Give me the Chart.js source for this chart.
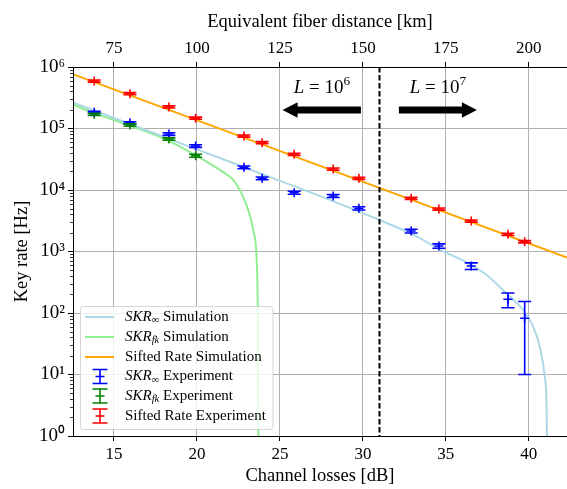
<!DOCTYPE html>
<html>
<head>
<meta charset="utf-8">
<script src="https://cdn.jsdelivr.net/npm/chart.js@4.4.0/dist/chart.umd.min.js"></script>
<style>
  html, body { margin: 0; padding: 0; background: #fff; }
  #wrap { width: 567px; height: 489px; }
</style>
</head>
<body>
<div id="wrap"><canvas id="keyRateChart" width="567" height="489"></canvas></div>
<script>
// measured points, channel losses [dB]
const lossExp = [13.81, 15.96, 18.31, 19.92, 22.83, 23.93, 25.86, 28.21, 29.76, 32.91, 34.58, 36.53, 38.74, 39.75];
const lossExpFk = [13.81, 15.96, 18.31, 19.92];

// experiment rates [Hz] and their error bars
const siftedExp = [5.92e5, 3.68e5, 2.24e5, 1.47e5, 7.55e4, 5.88e4, 3.80e4, 2.19e4, 1.55e4, 7.33e3, 4.91e3, 3.13e3, 1.90e3, 1.44e3];
const siftedErr = [2.4e4, 1.5e4, 9e3, 6e3, 3e3, 2.4e3, 1.5e3, 9e2, 6e2, 3e2, 2e2, 1.3e2, 80, 60];
const skrInfExp = [1.83e5, 1.24e5, 8.14e4, 5.19e4, 2.34e4, 1.55e4, 9.04e3, 7.99e3, 5.04e3, 2.15e3, 1.23e3, 581, 167, 82];
const skrInfErr = [7e3, 5e3, 4e3, 2.5e3, 1.2e3, 8e2, 5e2, 4.5e2, 3e2, 1.5e2, 1e2, 72, 45, 72];
const skrFkExp = [1.70e5, 1.14e5, 6.75e4, 3.61e4];
const skrFkErr = [7e3, 5e3, 3e3, 2e3];

// simulation curves
const lossSifted = [12.5, 27.5, 42.3];
const siftedSim = [7.66e5, 2.42e4, 8.0e2];
const lossSkrInf = [12.5, 15, 20, 25, 28, 31, 33, 35, 36, 36.85, 37.5, 38.43, 39, 39.66, 40.26, 40.66, 40.96, 41.06, 41.12];
const skrInfSim = [2.67e5, 1.48e5, 4.57e4, 1.41e4, 6.9e3, 3.25e3, 1.9e3, 955, 724, 533, 407, 237, 170, 112, 59.8, 28.3, 9.2, 3.85, 0.3];
const lossSkrFk = [12.5, 13.8, 16, 18.3, 20, 21.39, 22.19, 22.69, 23.09, 23.39, 23.6, 23.66, 23.69, 23.71];
const skrFkSim = [2.48e5, 1.78e5, 1.10e5, 6.31e4, 3.55e4, 2.11e4, 1.46e4, 8.83e3, 4.73e3, 2.24e3, 728, 158, 16, 0.3];

// axes
const lossMin = 12.53, lossMax = 42.3;
const lossTicks = [15, 20, 25, 30, 35, 40];
const kmPerDb = 5;
const kmTicks = [75, 100, 125, 150, 175, 200];
const rateTicks = [1, 10, 100, 1e3, 1e4, 1e5, 1e6];

// block length regions
const boundaryLoss = 31;
const arrowTail = [29.88, 32.17];
const arrowTip = [25.16, 36.87];
const arrowLevel = 2.0e5;
const labelLoss = [27.53, 34.52];
const labelLevel = 3.8e5;
const blockExp = ['6', '7'];

const SERIF = "'Liberation Serif', 'Times New Roman', serif";
Chart.defaults.font.family = SERIF;
Chart.defaults.color = '#000';

const pts = (xs, ys) => xs.map((x, i) => ({x: x, y: ys[i]}));
const sup = ['\u2070', '\u00b9', '\u00b2', '\u00b3', '\u2074', '\u2075', '\u2076'];

function drawRich(ctx, x, y, segs, size, align) {
  const fontOf = s => (s.it ? 'italic ' : '') + ((s.sub || s.sup) ? size * 0.7 : size) + 'px ' + SERIF;
  let w = 0;
  segs.forEach(s => { ctx.font = fontOf(s); w += ctx.measureText(s.t).width; });
  let cx = align === 'center' ? x - w / 2 : x;
  ctx.textAlign = 'left';
  segs.forEach(s => {
    ctx.font = fontOf(s);
    const dy = s.sub ? size * 0.22 : s.sup ? -size * 0.42 : 0;
    ctx.fillText(s.t, cx, y + dy);
    cx += ctx.measureText(s.t).width;
  });
}

function drawErrIcon(ctx, x, y, color, capHalf, barHalf, mark) {
  ctx.strokeStyle = color;
  ctx.lineWidth = 1.6;
  ctx.beginPath();
  ctx.moveTo(x, y - barHalf); ctx.lineTo(x, y + barHalf);
  ctx.moveTo(x - capHalf, y - barHalf); ctx.lineTo(x + capHalf, y - barHalf);
  ctx.moveTo(x - capHalf, y + barHalf); ctx.lineTo(x + capHalf, y + barHalf);
  ctx.moveTo(x - mark, y); ctx.lineTo(x + mark, y);
  ctx.stroke();
}

function drawArrow(ctx, x0, x1, yc) {
  const dir = Math.sign(x1 - x0), headLen = 15, headHalf = 7.7, shaftHalf = 3.4;
  const xh = x1 - dir * headLen;
  ctx.beginPath();
  ctx.moveTo(x0, yc - shaftHalf);
  ctx.lineTo(xh, yc - shaftHalf);
  ctx.lineTo(xh, yc - headHalf);
  ctx.lineTo(x1, yc);
  ctx.lineTo(xh, yc + headHalf);
  ctx.lineTo(xh, yc + shaftHalf);
  ctx.lineTo(x0, yc + shaftHalf);
  ctx.closePath();
  ctx.fill();
}

// fixed axis boxes, no extra padding for edge labels
function fixBox(size) {
  return s => {
    if (s.isHorizontal()) s.height = size; else s.width = size;
    s.paddingLeft = s.paddingRight = s.paddingTop = s.paddingBottom = 0;
  };
}

const errorBars = {
  id: 'errorBars',
  afterDatasetsDraw(chart) {
    const ctx = chart.ctx, y = chart.scales.y;
    chart.data.datasets.forEach((ds, i) => {
      if (!ds.errors) return;
      const meta = chart.getDatasetMeta(i);
      ctx.save();
      ctx.strokeStyle = ds.borderColor;
      ctx.lineWidth = 1.6;
      meta.data.forEach((pt, j) => {
        const v = ds.data[j].y, e = ds.errors[j];
        const top = y.getPixelForValue(v + e);
        const bot = y.getPixelForValue(Math.max(v - e, 1e-3));
        ctx.beginPath();
        ctx.moveTo(pt.x, top); ctx.lineTo(pt.x, bot);
        ctx.moveTo(pt.x - 6.5, top); ctx.lineTo(pt.x + 6.5, top);
        ctx.moveTo(pt.x - 6.5, bot); ctx.lineTo(pt.x + 6.5, bot);
        ctx.stroke();
      });
      ctx.restore();
    });
  }
};

const annotations = {
  id: 'annotations',
  afterDatasetsDraw(chart) {
    const {ctx, chartArea, scales: {x, y}} = chart;
    const xb = x.getPixelForValue(boundaryLoss);
    ctx.save();
    ctx.strokeStyle = '#000';
    ctx.lineWidth = 2;
    ctx.setLineDash([5.5, 2.5]);
    ctx.beginPath();
    ctx.moveTo(xb, chartArea.top); ctx.lineTo(xb, chartArea.bottom);
    ctx.stroke();
    ctx.setLineDash([]);
    ctx.fillStyle = '#000';
    arrowTail.forEach((t, k) => drawArrow(ctx, x.getPixelForValue(t), x.getPixelForValue(arrowTip[k]), y.getPixelForValue(arrowLevel)));
    ctx.textBaseline = 'alphabetic';
    blockExp.forEach((e, k) => drawRich(ctx, x.getPixelForValue(labelLoss[k]), y.getPixelForValue(labelLevel),
      [{t: 'L', it: true}, {t: ' = 10'}, {t: e, sup: true}], 19, 'center'));
    ctx.restore();
  },
  afterDraw(chart) {
    const {ctx, chartArea, scales: {y}} = chart;
    ctx.save();
    // minor ticks on the log axis
    ctx.strokeStyle = '#000';
    ctx.lineWidth = 0.8;
    ctx.beginPath();
    for (let d = 0; d < 6; d++) {
      for (let m = 2; m < 10; m++) {
        const py = Math.round(y.getPixelForValue(m * Math.pow(10, d))) + 0.5;
        ctx.moveTo(chartArea.left - 3, py); ctx.lineTo(chartArea.left, py);
      }
    }
    ctx.stroke();

    // legend
    const L = 80.5, T = 306.5, W = 192.5, H = 123;
    ctx.fillStyle = 'rgba(255,255,255,0.8)';
    ctx.strokeStyle = 'rgba(204,204,204,0.8)';
    ctx.lineWidth = 1;
    ctx.beginPath();
    ctx.roundRect(L, T, W, H, 3);
    ctx.fill();
    ctx.stroke();
    const rowY = [317, 337, 357, 376.5, 396, 416];
    ctx.fillStyle = '#000';
    ctx.textBaseline = 'middle';
    chart.data.datasets.forEach((ds, i) => {
      const yy = rowY[i];
      if (ds.errors) {
        drawErrIcon(ctx, 100, yy, ds.borderColor, 7.5, 7, 4.5);
      } else {
        ctx.strokeStyle = ds.borderColor;
        ctx.lineWidth = 2;
        ctx.beginPath();
        ctx.moveTo(85, yy); ctx.lineTo(114, yy);
        ctx.stroke();
      }
      ctx.fillStyle = '#000';
      drawRich(ctx, 125, yy, ds.legendText, 15, 'left');
    });
    ctx.restore();
  }
};

const skr = {t: 'SKR', it: true};
const chart = new Chart(document.getElementById('keyRateChart'), {
  type: 'scatter',
  data: {
    datasets: [
      { legendText: [skr, {t: '\u221e', sub: true}, {t: ' Simulation'}],
        data: pts(lossSkrInf, skrInfSim), showLine: true, borderColor: '#add8e6', borderWidth: 2,
        pointRadius: 0, cubicInterpolationMode: 'monotone', order: 1 },
      { legendText: [skr, {t: 'fk', it: true, sub: true}, {t: ' Simulation'}],
        data: pts(lossSkrFk, skrFkSim), showLine: true, borderColor: '#90ee90', borderWidth: 2,
        pointRadius: 0, cubicInterpolationMode: 'monotone', order: 1 },
      { legendText: [{t: 'Sifted Rate Simulation'}],
        data: pts(lossSifted, siftedSim), showLine: true, borderColor: '#ffa500', borderWidth: 2,
        pointRadius: 0, order: 1 },
      { legendText: [skr, {t: '\u221e', sub: true}, {t: ' Experiment'}],
        data: pts(lossExp, skrInfExp), errors: skrInfErr, borderColor: '#0000ff', backgroundColor: '#0000ff',
        pointStyle: 'cross', pointRadius: 4.5, borderWidth: 1.6, order: 0 },
      { legendText: [skr, {t: 'fk', it: true, sub: true}, {t: ' Experiment'}],
        data: pts(lossExpFk, skrFkExp), errors: skrFkErr, borderColor: '#008000', backgroundColor: '#008000',
        pointStyle: 'cross', pointRadius: 4.5, borderWidth: 1.6, order: 0 },
      { legendText: [{t: 'Sifted Rate Experiment'}],
        data: pts(lossExp, siftedExp), errors: siftedErr, borderColor: '#ff0000', backgroundColor: '#ff0000',
        pointStyle: 'cross', pointRadius: 4.5, borderWidth: 1.6, order: 0 }
    ]
  },
  options: {
    responsive: false,
    animation: false,
    devicePixelRatio: 1,
    layout: { padding: 0, autoPadding: false },
    plugins: { legend: { display: false }, tooltip: { enabled: false } },
    scales: {
      x: {
        type: 'linear', position: 'bottom', min: lossMin, max: lossMax,
        afterBuildTicks: s => { s.ticks = lossTicks.map(v => ({value: v})); },
        afterFit: fixBox(53),
        ticks: { font: {size: 17}, color: '#000', padding: 3, maxRotation: 0 },
        grid: { color: '#b0b0b0', lineWidth: 1, tickColor: '#000', tickLength: 5 },
        border: { color: '#000', width: 1, z: 1 },
        title: { display: true, text: 'Channel losses [dB]', font: {size: 18.5}, color: '#000', padding: {top: 0, bottom: 2} }
      },
      x2: {
        type: 'linear', position: 'top', min: lossMin * kmPerDb, max: lossMax * kmPerDb,
        afterBuildTicks: s => { s.ticks = kmTicks.map(v => ({value: v})); },
        afterFit: fixBox(67),
        ticks: { font: {size: 17}, color: '#000', padding: 3, maxRotation: 0 },
        grid: { drawOnChartArea: false, tickColor: '#000', tickLength: 5 },
        border: { color: '#000', width: 1, z: 1 },
        title: { display: true, text: 'Equivalent fiber distance [km]', font: {size: 18.5}, color: '#000', padding: {top: 11, bottom: 0} }
      },
      y: {
        type: 'logarithmic', position: 'left', min: 1, max: 1e6,
        afterBuildTicks: s => { s.ticks = rateTicks.map(v => ({value: v})); },
        afterFit: fixBox(73),
        ticks: {
          font: {size: 19}, color: '#000', padding: 3,
          callback: v => '10' + sup[Math.round(Math.log10(v))]
        },
        grid: { color: '#b0b0b0', lineWidth: 1, tickColor: '#000', tickLength: 5 },
        border: { color: '#000', width: 1, z: 1 },
        title: { display: true, text: 'Key rate [Hz]', font: {size: 18.5}, color: '#000', padding: {top: 11, bottom: 0} }
      }
    }
  },
  plugins: [errorBars, annotations]
});
</script>
</body>
</html>
